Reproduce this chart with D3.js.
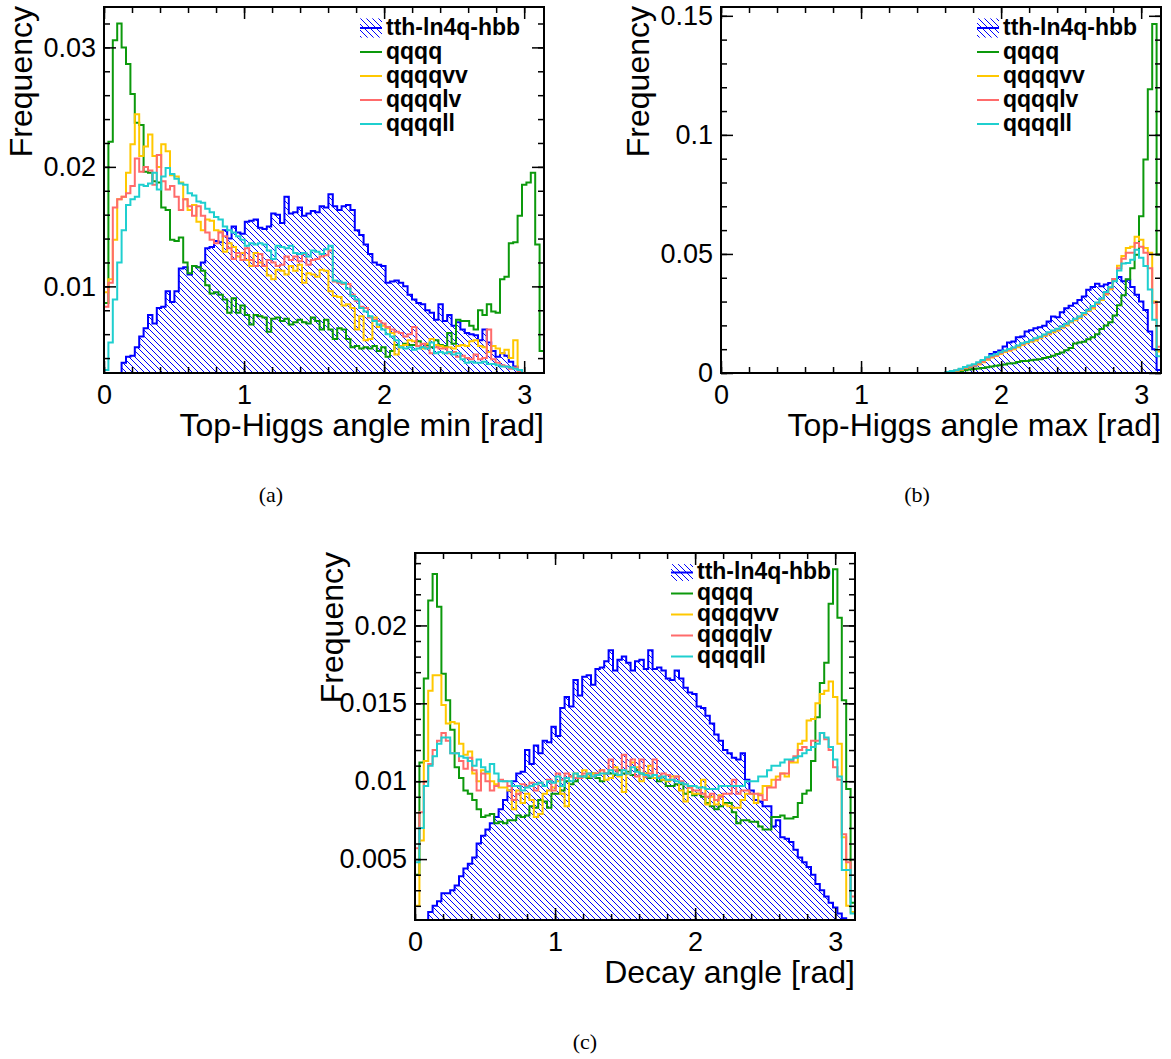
<!DOCTYPE html>
<html>
<head>
<meta charset="utf-8">
<script src="https://cdn.jsdelivr.net/npm/d3@7"></script>
<style>
  body { margin: 0; background: #fff; }
  svg { display: block; }
  svg text { font-family: "Liberation Sans", Helvetica, Arial, sans-serif; }
</style>
</head>
<body>
<div id="chart"></div>
<script>
// Histograms: 100 bins between 0 and pi, normalised frequencies
var nBins = 100;
var seriesNames = ["tth-ln4q-hbb", "qqqq", "qqqqvv", "qqqqlv", "qqqqll"];
var xTicks = [0, 1, 2, 3];
var xTickLabels = ["0", "1", "2", "3"];
var captions = ["(a)", "(b)", "(c)"];
var xTitles = ["Top-Higgs angle min [rad]", "Top-Higgs angle max [rad]", "Decay angle [rad]"];

// (a) Top-Higgs angle min
var minTth = [0,0,0,0,0.0036,0.0041,0.0042,0.0049,0.0058,0.0065,
  0.0076,0.0069,0.0082,0.0083,0.0096,0.0087,0.0096,0.0115,0.0116,0.0110,
  0.0117,0.0116,0.0120,0.0132,0.0133,0.0138,0.0137,0.0147,0.0140,0.0150,
  0.0145,0.0144,0.0154,0.0155,0.0156,0.0149,0.0148,0.0150,0.0161,0.0160,
  0.0153,0.0175,0.0161,0.0162,0.0166,0.0159,0.0161,0.0163,0.0162,0.0167,
  0.0166,0.0177,0.0167,0.0164,0.0167,0.0168,0.0164,0.0147,0.0143,0.0135,
  0.0127,0.0120,0.0118,0.0117,0.0103,0.0104,0.0105,0.0103,0.0100,0.0093,
  0.0089,0.0086,0.0085,0.0080,0.0078,0.0072,0.0085,0.0071,0.0076,0.0067,
  0.0070,0.0064,0.0061,0.0060,0.0059,0.0055,0.0064,0.0053,0.0046,0.0041,
  0.0044,0.0042,0.0037,0.0033,0.0030,0,0,0,0,0];
var minQqqq = [0.0086,0.0221,0.0306,0.0320,0.0300,0.0286,0.0261,0.0237,0.0235,0.0196,
  0.0195,0.0188,0.0187,0.0166,0.0164,0.0139,0.0138,0.0141,0.0120,0.0111,
  0.0117,0.0116,0.0113,0.0101,0.0094,0.0095,0.0093,0.0089,0.0078,0.0090,
  0.0078,0.0084,0.0076,0.0068,0.0076,0.0075,0.0074,0.0062,0.0073,0.0074,
  0.0071,0.0073,0.0068,0.0070,0.0072,0.0070,0.0069,0.0074,0.0071,0.0064,
  0.0072,0.0064,0.0056,0.0065,0.0064,0.0056,0.0049,0.0050,0.0048,0.0049,
  0.0048,0.0050,0.0046,0.0049,0.0041,0.0046,0.0051,0.0049,0.0052,0.0051,
  0.0051,0.0054,0.0049,0.0051,0.0049,0.0055,0.0051,0.0050,0.0061,0.0052,
  0.0072,0.0071,0.0071,0.0067,0.0064,0.0080,0.0076,0.0085,0.0079,0.0078,
  0.0106,0.0108,0.0136,0.0137,0.0159,0.0185,0.0187,0.0195,0.0135,0.0046];
var minQqqqvv = [0.0095,0.0106,0.0139,0.0173,0.0175,0.0195,0.0219,0.0244,0.0209,0.0217,
  0.0227,0.0209,0.0200,0.0219,0.0213,0.0193,0.0192,0.0187,0.0173,0.0164,
  0.0168,0.0154,0.0147,0.0156,0.0155,0.0147,0.0146,0.0129,0.0136,0.0133,
  0.0125,0.0128,0.0122,0.0117,0.0128,0.0120,0.0117,0.0109,0.0106,0.0114,
  0.0113,0.0110,0.0117,0.0113,0.0118,0.0103,0.0111,0.0110,0.0108,0.0114,
  0.0113,0.0096,0.0092,0.0091,0.0084,0.0085,0.0082,0.0064,0.0075,0.0055,
  0.0056,0.0074,0.0066,0.0067,0.0065,0.0061,0.0043,0.0050,0.0051,0.0055,
  0.0054,0.0050,0.0048,0.0052,0.0056,0.0051,0.0050,0.0049,0.0049,0.0048,
  0.0050,0.0051,0.0050,0.0054,0.0055,0.0050,0.0049,0.0045,0.0050,0.0048,
  0.0044,0.0047,0.0040,0.0055,0.0030,0,0,0,0,0];
var minQqqqlv = [0.0083,0.0103,0.0166,0.0173,0.0175,0.0178,0.0184,0.0207,0.0196,0.0200,
  0.0197,0.0185,0.0210,0.0188,0.0181,0.0184,0.0175,0.0164,0.0173,0.0167,
  0.0159,0.0167,0.0159,0.0145,0.0139,0.0136,0.0145,0.0142,0.0132,0.0123,
  0.0128,0.0122,0.0132,0.0122,0.0117,0.0127,0.0117,0.0122,0.0120,0.0117,
  0.0118,0.0125,0.0122,0.0125,0.0121,0.0127,0.0118,0.0122,0.0123,0.0125,
  0.0126,0.0130,0.0104,0.0103,0.0102,0.0102,0.0093,0.0088,0.0083,0.0082,
  0.0074,0.0072,0.0071,0.0069,0.0066,0.0064,0.0062,0.0061,0.0058,0.0060,
  0.0066,0.0050,0.0052,0.0049,0.0044,0.0049,0.0048,0.0048,0.0044,0.0045,
  0.0041,0.0042,0.0040,0.0039,0.0043,0.0039,0.0040,0.0064,0.0039,0.0036,
  0.0034,0.0033,0.0031,0.0032,0.0029,0,0,0,0,0];
var minQqqqll = [0.0030,0.0053,0.0089,0.0120,0.0147,0.0168,0.0173,0.0175,0.0185,0.0184,
  0.0186,0.0195,0.0181,0.0192,0.0199,0.0194,0.0190,0.0186,0.0185,0.0178,
  0.0176,0.0171,0.0170,0.0165,0.0162,0.0158,0.0156,0.0150,0.0147,0.0145,
  0.0142,0.0139,0.0134,0.0136,0.0135,0.0136,0.0135,0.0130,0.0123,0.0134,
  0.0133,0.0132,0.0134,0.0128,0.0127,0.0128,0.0125,0.0130,0.0129,0.0127,
  0.0131,0.0134,0.0105,0.0104,0.0103,0.0098,0.0092,0.0089,0.0082,0.0079,
  0.0075,0.0071,0.0068,0.0064,0.0060,0.0058,0.0055,0.0049,0.0048,0.0049,
  0.0047,0.0048,0.0049,0.0048,0.0053,0.0044,0.0045,0.0044,0.0045,0.0043,
  0.0044,0.0039,0.0036,0.0037,0.0036,0.0036,0.0037,0.0035,0.0035,0.0034,
  0.0033,0.0033,0.0032,0.0031,0.0030,0,0,0,0,0];

// (b) Top-Higgs angle max
var maxTth = [0,0,0,0,0,0,0,0,0,0, 0,0,0,0,0,0,0,0,0,0, 0,0,0,0,0,0,0,0,0,0,
  0,0,0,0,0,0,0,0,0,0, 0,0,0,0,0,0,0,0,0,0,
  0,0.0002,0.0004,0.0006,0.0011,0.0016,0.0024,0.0030,0.0038,0.0050,
  0.0058,0.0080,0.0088,0.0095,0.0111,0.0128,0.0132,0.0150,0.0153,0.0174,
  0.0180,0.0188,0.0192,0.0198,0.0216,0.0237,0.0234,0.0255,0.0272,0.0282,
  0.0293,0.0307,0.0321,0.0350,0.0361,0.0375,0.0364,0.0372,0.0378,0.0395,
  0.0403,0.0385,0.0392,0.0361,0.0329,0.0300,0.0265,0.0174,0.0100,0.0013];
var maxQqqq = [0,0,0,0,0,0,0,0,0,0, 0,0,0,0,0,0,0,0,0,0, 0,0,0,0,0,0,0,0,0,0,
  0,0,0,0,0,0,0,0,0,0, 0,0,0,0,0,0,0,0,0,0,
  0,0,0,0.0004,0.0008,0.0012,0.0015,0.0017,0.0019,0.0021,
  0.0024,0.0027,0.0030,0.0033,0.0036,0.0040,0.0041,0.0046,0.0050,0.0050,
  0.0054,0.0056,0.0058,0.0063,0.0067,0.0072,0.0080,0.0086,0.0096,0.0105,
  0.0124,0.0128,0.0131,0.0142,0.0150,0.0163,0.0185,0.0200,0.0213,0.0241,
  0.0284,0.0326,0.0394,0.0440,0.0497,0.0658,0.0897,0.1192,0.1466,0.0497];
var maxQqqqvv = [0,0,0,0,0,0,0,0,0,0, 0,0,0,0,0,0,0,0,0,0, 0,0,0,0,0,0,0,0,0,0,
  0,0,0,0,0,0,0,0,0,0, 0,0,0,0,0,0,0,0,0,0,
  0,0.0002,0.0004,0.0008,0.0014,0.0020,0.0026,0.0031,0.0036,0.0045,
  0.0056,0.0065,0.0071,0.0080,0.0088,0.0093,0.0100,0.0108,0.0118,0.0125,
  0.0131,0.0137,0.0146,0.0155,0.0163,0.0171,0.0178,0.0190,0.0200,0.0213,
  0.0222,0.0231,0.0246,0.0260,0.0271,0.0290,0.0307,0.0330,0.0352,0.0392,
  0.0450,0.0491,0.0525,0.0530,0.0572,0.0560,0.0525,0.0505,0.0300,0.0090];
var maxQqqqlv = [0,0,0,0,0,0,0,0,0,0, 0,0,0,0,0,0,0,0,0,0, 0,0,0,0,0,0,0,0,0,0,
  0,0,0,0,0,0,0,0,0,0, 0,0,0,0,0,0,0,0,0,0,
  0,0.0003,0.0006,0.0010,0.0016,0.0022,0.0028,0.0033,0.0040,0.0048,
  0.0060,0.0068,0.0074,0.0083,0.0091,0.0097,0.0104,0.0113,0.0121,0.0128,
  0.0135,0.0143,0.0150,0.0159,0.0167,0.0176,0.0184,0.0194,0.0205,0.0216,
  0.0226,0.0236,0.0250,0.0263,0.0277,0.0293,0.0311,0.0334,0.0356,0.0395,
  0.0440,0.0480,0.0505,0.0505,0.0546,0.0530,0.0505,0.0440,0.0295,0.0110];
var maxQqqqll = [0,0,0,0,0,0,0,0,0,0, 0,0,0,0,0,0,0,0,0,0, 0,0,0,0,0,0,0,0,0,0,
  0,0,0,0,0,0,0,0,0,0, 0,0,0,0,0,0,0,0,0,0,
  0,0.0004,0.0008,0.0012,0.0018,0.0025,0.0031,0.0037,0.0045,0.0055,
  0.0066,0.0074,0.0079,0.0087,0.0095,0.0101,0.0107,0.0116,0.0125,0.0130,
  0.0138,0.0146,0.0152,0.0162,0.0171,0.0178,0.0186,0.0196,0.0207,0.0217,
  0.0228,0.0237,0.0252,0.0266,0.0281,0.0296,0.0313,0.0340,0.0360,0.0385,
  0.0430,0.0460,0.0462,0.0476,0.0518,0.0484,0.0449,0.0351,0.0224,0.0070];

// (c) Decay angle
var decayTth = [0,0,0,0.0016,0.0020,0.0023,0.0028,0.0028,0.0030,0.0033,
  0.0039,0.0044,0.0047,0.0051,0.0060,0.0065,0.0069,0.0073,0.0077,0.0082,
  0.0088,0.0094,0.0100,0.0105,0.0106,0.0120,0.0111,0.0123,0.0118,0.0126,
  0.0125,0.0135,0.0129,0.0147,0.0154,0.0148,0.0165,0.0155,0.0167,0.0168,
  0.0162,0.0172,0.0173,0.0177,0.0184,0.0171,0.0178,0.0180,0.0176,0.0171,
  0.0177,0.0178,0.0172,0.0184,0.0172,0.0173,0.0171,0.0166,0.0165,0.0171,
  0.0166,0.0160,0.0157,0.0156,0.0148,0.0147,0.0142,0.0137,0.0130,0.0126,
  0.0120,0.0118,0.0115,0.0114,0.0118,0.0101,0.0094,0.0088,0.0087,0.0084,
  0.0084,0.0071,0.0075,0.0064,0.0063,0.0061,0.0056,0.0051,0.0048,0.0045,
  0.0040,0.0034,0.0030,0.0026,0.0022,0.0019,0.0015,0.0012,0,0];
var decayQqqq = [0.0040,0.0112,0.0166,0.0216,0.0233,0.0212,0.0169,0.0152,0.0133,0.0109,
  0.0102,0.0094,0.0092,0.0088,0.0082,0.0077,0.0078,0.0079,0.0073,0.0074,
  0.0073,0.0075,0.0075,0.0078,0.0077,0.0078,0.0084,0.0083,0.0088,0.0087,
  0.0083,0.0092,0.0092,0.0094,0.0100,0.0098,0.0100,0.0103,0.0103,0.0102,
  0.0105,0.0102,0.0100,0.0105,0.0105,0.0104,0.0107,0.0105,0.0106,0.0104,
  0.0107,0.0105,0.0103,0.0102,0.0104,0.0100,0.0101,0.0097,0.0097,0.0098,
  0.0098,0.0092,0.0093,0.0091,0.0092,0.0090,0.0086,0.0084,0.0082,0.0084,
  0.0086,0.0086,0.0080,0.0073,0.0075,0.0075,0.0074,0.0074,0.0071,0.0069,
  0.0069,0.0077,0.0077,0.0078,0.0076,0.0076,0.0077,0.0086,0.0092,0.0094,
  0.0113,0.0141,0.0163,0.0176,0.0214,0.0236,0.0205,0.0152,0.0095,0.0022];
var decayQqqqvv = [0.0020,0.0062,0.0113,0.0158,0.0168,0.0168,0.0149,0.0137,0.0138,0.0137,
  0.0124,0.0117,0.0119,0.0105,0.0100,0.0107,0.0105,0.0100,0.0098,0.0096,
  0.0096,0.0094,0.0082,0.0094,0.0086,0.0092,0.0088,0.0077,0.0079,0.0092,
  0.0094,0.0096,0.0100,0.0092,0.0084,0.0103,0.0105,0.0102,0.0107,0.0103,
  0.0105,0.0104,0.0107,0.0101,0.0102,0.0109,0.0103,0.0093,0.0105,0.0112,
  0.0109,0.0100,0.0105,0.0110,0.0102,0.0103,0.0101,0.0100,0.0103,0.0103,
  0.0094,0.0087,0.0096,0.0092,0.0092,0.0101,0.0085,0.0090,0.0085,0.0091,
  0.0085,0.0084,0.0083,0.0083,0.0088,0.0092,0.0092,0.0086,0.0092,0.0097,
  0.0097,0.0101,0.0103,0.0105,0.0103,0.0112,0.0112,0.0124,0.0126,0.0139,
  0.0140,0.0150,0.0156,0.0158,0.0164,0.0154,0.0124,0.0064,0.0020,0.0016];
var decayQqqqlv = [0.0057,0.0080,0.0100,0.0111,0.0120,0.0126,0.0131,0.0126,0.0118,0.0118,
  0.0113,0.0108,0.0115,0.0107,0.0094,0.0105,0.0100,0.0094,0.0097,0.0101,
  0.0100,0.0097,0.0088,0.0092,0.0098,0.0097,0.0099,0.0094,0.0099,0.0097,
  0.0101,0.0094,0.0105,0.0101,0.0105,0.0103,0.0102,0.0102,0.0105,0.0105,
  0.0103,0.0105,0.0107,0.0105,0.0114,0.0107,0.0104,0.0117,0.0105,0.0114,
  0.0103,0.0114,0.0103,0.0105,0.0114,0.0103,0.0105,0.0104,0.0101,0.0103,
  0.0100,0.0098,0.0096,0.0094,0.0094,0.0092,0.0090,0.0092,0.0088,0.0090,
  0.0092,0.0092,0.0101,0.0092,0.0094,0.0094,0.0092,0.0092,0.0091,0.0088,
  0.0096,0.0096,0.0101,0.0105,0.0105,0.0113,0.0116,0.0120,0.0122,0.0120,
  0.0126,0.0126,0.0131,0.0127,0.0120,0.0109,0.0101,0.0066,0.0048,0.0026];
var decayQqqqll = [0.0048,0.0070,0.0097,0.0110,0.0116,0.0124,0.0128,0.0128,0.0118,0.0118,
  0.0116,0.0115,0.0113,0.0110,0.0114,0.0109,0.0106,0.0111,0.0105,0.0100,
  0.0100,0.0100,0.0097,0.0097,0.0094,0.0096,0.0097,0.0098,0.0099,0.0097,
  0.0100,0.0099,0.0103,0.0097,0.0102,0.0100,0.0105,0.0103,0.0103,0.0105,
  0.0103,0.0104,0.0105,0.0105,0.0107,0.0105,0.0104,0.0107,0.0105,0.0109,
  0.0106,0.0105,0.0104,0.0103,0.0104,0.0102,0.0103,0.0101,0.0101,0.0100,
  0.0099,0.0098,0.0097,0.0097,0.0096,0.0096,0.0095,0.0095,0.0095,0.0097,
  0.0097,0.0097,0.0097,0.0097,0.0097,0.0100,0.0100,0.0100,0.0103,0.0103,
  0.0107,0.0110,0.0110,0.0112,0.0114,0.0114,0.0115,0.0116,0.0118,0.0120,
  0.0122,0.0124,0.0131,0.0128,0.0122,0.0114,0.0103,0.0043,0.0043,0.0015];

// y axis ticks and labels for each panel
var yTicksA = [0.01, 0.02, 0.03], yLabelsA = ["0.01", "0.02", "0.03"];
var yTicksB = [0, 0.05, 0.1, 0.15], yLabelsB = ["0", "0.05", "0.1", "0.15"];
var yTicksC = [0.005, 0.01, 0.015, 0.02], yLabelsC = ["0.005", "0.01", "0.015", "0.02"];

var colors = ["#0000ff", "#0c990c", "#ffc800", "#ff6b6b", "#1fcfcf"];

var svg = d3.select("#chart").append("svg")
    .attr("width", 1171)
    .attr("height", 1059);

var defs = svg.append("defs");
var hatch = defs.append("pattern")
    .attr("id", "hatch")
    .attr("patternUnits", "userSpaceOnUse")
    .attr("width", 6).attr("height", 6);
hatch.append("path")
    .attr("d", "M-1,-1 L7,7 M-1,5 L1,7 M5,-1 L7,1")
    .attr("stroke", "#0000ff")
    .attr("stroke-width", 1);

var panels = [
  { id: "a", left: 104, right: 544, top: 7, bottom: 373, yDomain: [0.00275, 0.03338],
    data: [minTth, minQqqq, minQqqqvv, minQqqqlv, minQqqqll],
    yTicks: yTicksA, yLabels: yLabelsA, yMinorStep: 0.002,
    legendFirst: 27.5, legendStep: 24, caption: captions[0], capX: 271, capY: 502, xTitle: xTitles[0] },
  { id: "b", left: 721, right: 1161, top: 7, bottom: 373, yDomain: [0, 0.1537],
    data: [maxTth, maxQqqq, maxQqqqvv, maxQqqqlv, maxQqqqll],
    yTicks: yTicksB, yLabels: yLabelsB, yMinorStep: 0.01,
    legendFirst: 27.5, legendStep: 24, caption: captions[1], capX: 917, capY: 502, xTitle: xTitles[1] },
  { id: "c", left: 415, right: 855, top: 553, bottom: 920, yDomain: [0.00109, 0.02465],
    data: [decayTth, decayQqqq, decayQqqqvv, decayQqqqlv, decayQqqqll],
    yTicks: yTicksC, yLabels: yLabelsC, yMinorStep: 0.001,
    legendFirst: 26, legendStep: 21, caption: captions[2], capX: 585, capY: 1049, xTitle: xTitles[2] }
];

panels.forEach(drawPanel);

function drawPanel(p) {
    var x = d3.scaleLinear().domain([0, Math.PI]).range([p.left, p.right]);
    var y = d3.scaleLinear().domain(p.yDomain).range([p.bottom, p.top]);
    var lo = p.yDomain[0];
    var binW = Math.PI / nBins;

    defs.append("clipPath").attr("id", "clip-" + p.id)
        .append("rect")
        .attr("x", p.left).attr("y", p.top)
        .attr("width", p.right - p.left).attr("height", p.bottom - p.top);

    var plot = svg.append("g").attr("clip-path", "url(#clip-" + p.id + ")");

    // histogram contour points, values under the axis minimum are drawn on it
    function steps(vals) {
        var pts = [[0, lo]];
        vals.forEach(function (v, i) { pts.push([i * binW, Math.max(v, lo)]); });
        pts.push([Math.PI, Math.max(vals[vals.length - 1], lo)]);
        pts.push([Math.PI, lo]);
        return pts;
    }

    var line = d3.line().curve(d3.curveStepAfter)
        .x(function (d) { return x(d[0]); })
        .y(function (d) { return y(d[1]); });
    var area = d3.area().curve(d3.curveStepAfter)
        .x(function (d) { return x(d[0]); })
        .y0(y(lo))
        .y1(function (d) { return y(d[1]); });

    // signal: hatched
    plot.append("path")
        .attr("d", area(steps(p.data[0])))
        .attr("fill", "url(#hatch)");

    p.data.forEach(function (vals, i) {
        plot.append("path")
            .attr("d", line(steps(vals)))
            .attr("fill", "none")
            .attr("stroke", colors[i])
            .attr("stroke-width", 2);
    });

    // ticks, ROOT style (inside, mirrored)
    var xMinor = d3.range(0, 3.15, 0.2);
    var yMinor = d3.range(Math.ceil(p.yDomain[0] / p.yMinorStep) * p.yMinorStep, p.yDomain[1], p.yMinorStep)
        .map(function (d) { return +d.toFixed(5); });

    function styleAxis(g) {
        g.select(".domain").remove();
        g.selectAll(".tick line").attr("stroke-width", 1.5);
        g.attr("font-family", null).attr("font-size", 27);
    }
    // unlabelled tick rows: drop their empty text nodes
    function bare(g) {
        styleAxis(g);
        g.selectAll("text").remove();
    }

    svg.append("g").attr("transform", "translate(0," + p.bottom + ")")
        .call(d3.axisBottom(x).tickValues(xMinor).tickSize(-6))
        .call(bare);
    svg.append("g").attr("transform", "translate(0," + p.bottom + ")")
        .call(d3.axisBottom(x).tickValues(xTicks).tickSize(-12).tickPadding(12)
            .tickFormat(function (d, i) { return xTickLabels[i]; }))
        .call(styleAxis);
    svg.append("g").attr("transform", "translate(0," + p.top + ")")
        .call(d3.axisTop(x).tickValues(xMinor).tickSize(-6))
        .call(bare);
    svg.append("g").attr("transform", "translate(0," + p.top + ")")
        .call(d3.axisTop(x).tickValues(xTicks).tickSize(-12))
        .call(bare);

    svg.append("g").attr("transform", "translate(" + p.left + ",0)")
        .call(d3.axisLeft(y).tickValues(yMinor).tickSize(-6))
        .call(bare);
    svg.append("g").attr("transform", "translate(" + p.left + ",0)")
        .call(d3.axisLeft(y).tickValues(p.yTicks).tickSize(-12).tickPadding(8)
            .tickFormat(function (d, i) { return p.yLabels[i]; }))
        .call(styleAxis);
    svg.append("g").attr("transform", "translate(" + p.right + ",0)")
        .call(d3.axisRight(y).tickValues(yMinor).tickSize(-6))
        .call(bare);
    svg.append("g").attr("transform", "translate(" + p.right + ",0)")
        .call(d3.axisRight(y).tickValues(p.yTicks).tickSize(-12))
        .call(bare);

    // frame
    svg.append("rect")
        .attr("x", p.left).attr("y", p.top)
        .attr("width", p.right - p.left).attr("height", p.bottom - p.top)
        .attr("fill", "none").attr("stroke", "#000").attr("stroke-width", 2);

    // axis titles
    svg.append("text")
        .attr("transform", "translate(" + (p.left - 72) + "," + (p.top - 1) + ") rotate(-90)")
        .attr("text-anchor", "end")
        .attr("font-size", 32)
        .text("Frequency");
    svg.append("text")
        .attr("x", p.right).attr("y", p.bottom + 63)
        .attr("text-anchor", "end")
        .attr("font-size", 32)
        .text(p.xTitle);

    // legend
    var lx0 = p.right - 184, lx1 = p.right - 162, tx = p.right - 158;
    seriesNames.forEach(function (name, i) {
        var base = p.top + p.legendFirst + i * p.legendStep;
        var cy = base - 6.5;
        if (i === 0) {
            var h = p.legendStep * 0.8;
            svg.append("rect")
                .attr("x", lx0).attr("y", cy - h / 2)
                .attr("width", lx1 - lx0).attr("height", h)
                .attr("fill", "url(#hatch)");
        }
        svg.append("line")
            .attr("x1", lx0).attr("x2", lx1).attr("y1", cy).attr("y2", cy)
            .attr("stroke", colors[i]).attr("stroke-width", 2);
        svg.append("text")
            .attr("x", tx).attr("y", base)
            .attr("font-size", 23).attr("font-weight", "bold")
            .text(name);
    });

    // sub-figure caption
    svg.append("text")
        .attr("x", p.capX).attr("y", p.capY)
        .attr("text-anchor", "middle")
        .attr("font-size", 22)
        .style("font-family", "'Liberation Serif', 'Times New Roman', serif")
        .text(p.caption);
}
</script>
</body>
</html>
